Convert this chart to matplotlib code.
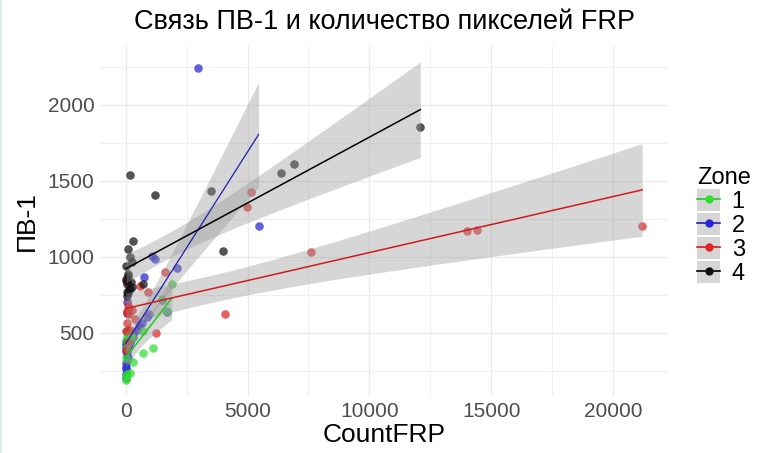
import numpy as np
import matplotlib
matplotlib.use("Agg")
import matplotlib.pyplot as plt
from matplotlib.lines import Line2D
from matplotlib.patches import Patch

plt.rcParams['font.family'] = ['Liberation Sans', 'DejaVu Sans']

zones = ["1", "2", "3", "4"]
zone1_x = [1890, 1680, 1475, 700, 1110, 700, 290, 160, 0, 0, 0, 60, 100, 50, 200, 20,
           0, 80, 250]
zone1_y = [820, 640, 720, 513, 400, 367, 307, 233, 207, 187, 333, 230, 520, 480, 480, 450,
           400, 430, 470]
zone2_x = [2950, 5450, 2090, 1070, 1190, 740, 160, 40, 40, 0, 0, 40,
           0, 10, 30, 60, 0, 20, 90, 120,
           0, 10, 20, 30, 40, 50, 60, 70, 80, 90,
           100, 110, 130, 150, 170, 190, 220, 250, 280, 300,
           450, 550, 650, 850, 950, 1475, 1680]
zone2_y = [2240, 1200, 927, 1007, 985, 867, 787, 700, 627, 440, 273, 507,
           230, 300, 350, 380, 200, 260, 330, 410,
           380, 420, 400, 440, 390, 430, 410, 450, 400, 440,
           420, 460, 430, 450, 440, 470, 460, 480, 470, 500,
           520, 545, 560, 600, 620, 715, 635]
zone3_x = [21200, 14020, 14430, 7620, 5160, 4960, 4060, 1600, 1250, 0, 570, 900,
           370, 170, 0, 0, 80, 40, 120, 60, 150, 30, 250, 100]
zone3_y = [1200, 1167, 1173, 1033, 1427, 1327, 620, 900, 500, 840, 807, 767,
           587, 520, 507, 387, 440, 560, 620, 630, 660, 640, 650, 680]
zone4_x = [160, 1190, 3480, 3975, 6390, 6885, 12090, 290, 80, 170, 250, 80, 40, 250, 50, 700,
           30, 60, 100, 20, 150, 10, 200, 80]
zone4_y = [1540, 1407, 1433, 1040, 1553, 1613, 1853, 1100, 1053, 1000, 967, 887, 840, 800, 767, 820,
           740, 820, 760, 850, 790, 940, 830, 870]

xs = [zone1_x, zone2_x, zone3_x, zone4_x]
ys = [zone1_y, zone2_y, zone3_y, zone4_y]
colors = ["#2fdf2f", "#2626d0", "#e02424", "#111111"]
line_colors = ["#22c822", "#2020b0", "#d01c1c", "#000000"]
point_z = [2.2, 2.1, 2.3, 2.4]


def t975(df):
    # Cornish-Fisher expansion of the Student t 97.5% quantile
    z = 1.959964
    return (z + (z**3 + z) / (4 * df) + (5 * z**5 + 16 * z**3 + 3 * z) / (96 * df**2)
            + (3 * z**7 + 19 * z**5 + 17 * z**3 - 15 * z) / (384 * df**3))


def lm_band(x, y, n_out=80):
    x = np.asarray(x, float)
    y = np.asarray(y, float)
    n = len(x)
    b, a = np.polyfit(x, y, 1)
    resid = y - (a + b * x)
    s = np.sqrt(np.sum(resid**2) / (n - 2))
    sxx = np.sum((x - x.mean())**2)
    xg = np.linspace(x.min(), x.max(), n_out)
    fit = a + b * xg
    se = s * np.sqrt(1 / n + (xg - x.mean())**2 / sxx)
    t = t975(n - 2)
    return xg, fit, fit - t * se, fit + t * se


fig = plt.figure(figsize=(7.57, 4.53), dpi=100)
ax = fig.add_axes([100 / 757, 57 / 453, 568 / 757, 350 / 453])

for x, y, c, z in zip(xs, ys, colors, point_z):
    ax.scatter(x, y, s=38, color=c, alpha=0.72, linewidths=0, zorder=z)

# linear fits with 95% confidence bands, one per zone
for x, y, lc in zip(xs, ys, line_colors):
    xg, fit, lo, hi = lm_band(x, y)
    ax.fill_between(xg, lo, hi, color="#999999", alpha=0.4, linewidth=0, zorder=3)
    ax.plot(xg, fit, color=lc, lw=1.1 if lc != "#2020b0" else 0.9, zorder=4)

ax.margins(0.05)
ax.set_xticks([0, 5000, 10000, 15000, 20000])
ax.set_xticks(np.arange(2500, 22500, 5000), minor=True)
ax.set_yticks([500, 1000, 1500, 2000])
ax.set_yticks([250, 750, 1250, 1750, 2250], minor=True)
ax.grid(True, which="major", color="#ebebeb", lw=1.0, zorder=0)
ax.grid(True, which="minor", color="#f0f0f0", lw=0.8, zorder=0)
ax.set_axisbelow(True)
for sp in ax.spines.values():
    sp.set_visible(False)
ax.tick_params(which="both", length=0, labelsize=15, labelcolor="#4d4d4d", pad=4)

ax.set_xlabel("CountFRP", fontsize=19, labelpad=2)
ax.set_ylabel("ПВ-1", fontsize=19, labelpad=6)
ax.set_title("Связь ПВ-1 и количество пикселей FRP", fontsize=19.5, pad=12)

handles = [(Patch(facecolor="#d6d6d6", edgecolor="none"),
            Line2D([], [], color=lc, marker="o", markersize=6, markerfacecolor=c,
                   markeredgewidth=0, lw=1.2))
           for c, lc in zip(colors, line_colors)]
leg = fig.legend(handles, zones, title="Zone", loc="upper left",
                 bbox_to_anchor=(688 / 757, 1 - 158 / 453), frameon=False,
                 fontsize=17, title_fontsize=17, handlelength=0.95, handleheight=1.05,
                 labelspacing=0.0, handletextpad=0.5, borderaxespad=0)
leg._legend_box.align = "left"

fig.add_artist(plt.Rectangle((0, 0), 2 / 757, 1, transform=fig.transFigure,
                             color="#d4eef0", lw=0))

plt.savefig("out.png", dpi=100)
